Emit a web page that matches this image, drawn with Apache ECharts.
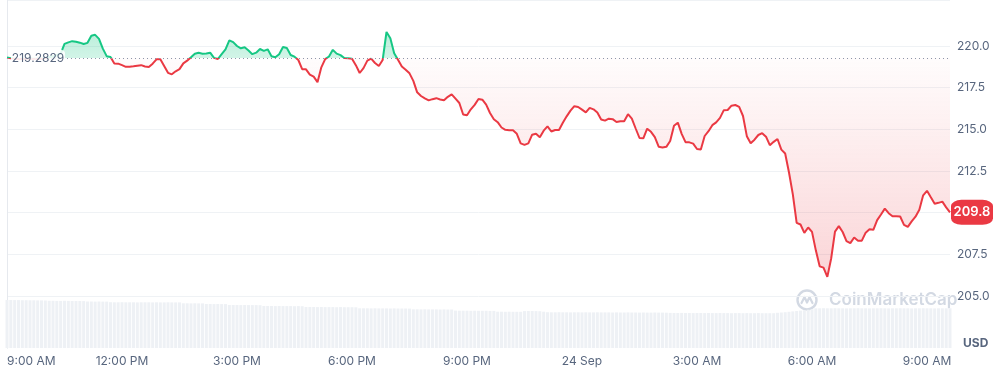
<!DOCTYPE html>
<html><head><meta charset="utf-8">
<script src="https://cdn.jsdelivr.net/npm/echarts@6/dist/echarts.min.js"></script>
<style>html,body{margin:0;padding:0;background:#fff}#c{width:994px;height:371px}</style>
</head><body><div id="c"></div>
<script>
// x values are hours after 9:00 AM (23 Sep), sampled every 6 minutes
const stepHours = 0.1;
const baseline = 219.2829;
const currentPrice = 209.8;
const tickLabels = ['9:00 AM','12:00 PM','3:00 PM','6:00 PM','9:00 PM','24 Sep','3:00 AM','6:00 AM','9:00 AM'];
const priceTicks = [205.0, 207.5, 210.0, 212.5, 215.0, 217.5, 220.0];

const priceValues = [
219.31,219.27,219.24,219.22,219.23,219.24,219.25,219.24,219.23,219.23,
219.28,219.33,219.38,219.46,219.54,220.13,220.22,220.29,220.26,220.20,
220.12,220.19,220.61,220.67,220.43,219.84,219.39,219.34,218.95,218.94,
218.85,218.75,218.75,218.78,218.82,218.85,218.77,218.74,218.94,219.20,
219.21,218.80,218.39,218.30,218.48,218.61,218.96,219.12,219.32,219.53,
219.59,219.54,219.55,219.60,219.29,219.22,219.51,219.80,220.34,220.23,
220.00,219.86,219.92,219.73,219.51,219.60,219.82,219.71,219.80,219.38,
219.32,219.50,219.94,219.88,219.46,219.36,219.16,218.61,218.60,218.28,
218.16,217.83,218.72,219.21,219.37,219.77,219.54,219.45,219.28,219.26,
219.24,218.85,218.38,218.67,219.12,219.24,218.98,218.80,219.16,220.84,
220.47,219.57,219.17,218.77,218.58,218.36,217.91,217.22,217.00,216.86,
216.74,216.81,216.87,216.79,216.74,216.95,217.10,216.84,216.58,215.89,
215.84,216.20,216.47,216.82,216.78,216.48,215.98,215.61,215.43,215.11,
214.97,214.95,214.94,214.73,214.16,214.07,214.16,214.68,214.74,214.53,
214.92,215.18,214.87,214.96,214.96,215.39,215.78,216.12,216.39,216.34,
216.18,216.02,216.29,216.20,216.01,215.59,215.52,215.64,215.61,215.44,
215.48,215.48,215.91,215.64,215.05,214.48,214.46,215.04,214.85,214.53,
213.96,213.91,213.95,214.30,215.21,215.40,214.73,214.23,214.22,214.14,
213.82,213.79,214.60,214.89,215.25,215.42,215.69,216.15,216.16,216.42,
216.46,216.35,215.80,214.59,214.17,214.38,214.66,214.77,214.56,214.05,
214.25,214.42,213.78,213.55,212.41,211.10,209.39,209.29,208.79,209.11,
208.85,207.74,206.78,206.70,206.15,207.25,208.86,209.19,208.84,208.29,
208.17,208.51,208.32,208.32,208.80,209.00,208.97,209.55,209.89,210.24,
209.97,209.79,209.78,209.77,209.27,209.15,209.48,209.76,210.18,211.04,
211.31,210.92,210.54,210.59,210.66,210.32,210.02
];

// volume (billions USD)
const volumeValues = [
4.80,4.80,4.79,4.79,4.78,4.78,4.77,4.77,4.76,4.76,4.75,
4.72,4.72,4.71,4.71,4.72,4.71,4.70,4.70,4.70,4.69,
4.65,4.65,4.64,4.65,4.64,4.64,
4.58,4.57,4.57,4.58,4.57,4.57,4.57,4.56,4.57,4.57,4.57,4.56,4.57,4.56,4.56,4.57,4.56,4.56,4.56,
4.47,4.47,4.46,4.47,4.46,4.46,
4.40,4.40,4.39,4.40,4.39,4.39,
4.30,4.30,4.30,4.29,4.30,4.29,4.29,4.29,4.28,
4.20,4.20,4.20,4.19,4.20,4.19,4.19,4.19,4.18,4.19,4.18,
4.10,4.10,4.10,4.09,4.10,4.09,4.09,4.09,4.08,4.09,4.08,4.08,4.08,4.07,
3.97,3.97,3.97,3.96,3.97,3.96,3.96,3.96,3.95,3.96,3.95,3.95,3.95,3.94,
3.87,3.87,3.86,3.87,3.86,3.86,3.86,3.85,3.86,3.85,3.85,
3.74,3.73,3.73,3.73,3.72,3.73,3.72,3.72,3.72,3.71,3.71,
3.63,3.63,3.62,3.63,3.62,3.62,3.62,
3.69,3.70,3.70,3.69,3.68,3.63,
3.58,3.57,3.57,3.58,3.57,3.57,3.56,3.57,3.57,3.56,3.57,3.56,3.56,3.57,3.56,3.56,
3.56,3.55,3.56,3.55,3.55,3.56,3.55,3.55,3.54,3.55,3.54,3.54,3.55,3.54,3.54,3.53,
3.51,3.50,3.50,3.51,3.50,3.50,3.49,3.50,3.50,3.49,3.50,3.49,3.49,3.50,
3.49,3.49,3.48,3.49,3.49,3.48,3.49,3.48,3.48,3.49,3.48,3.48,3.48,3.48,
3.52,3.55,3.58,3.62,3.66,3.70,3.74,3.78,3.83,3.88,
3.97,3.97,3.98,3.97,3.97,3.98,3.97,3.97,3.96,3.97,3.97,3.98,
3.97,3.97,3.96,3.97,3.97,3.98,3.97,3.96,3.97,3.97,3.98,3.97,
3.97,3.96,3.97,3.97,3.98,3.97,3.97,3.96,3.97,3.97,3.97,3.97
];

const times = priceValues.map((_, i) => +(i * stepHours).toFixed(2));
const xMax = times[times.length - 1];
const lineData = times.map((t, i) => [t, priceValues[i]]);
const upData = times.map((t, i) => [t, Math.max(priceValues[i], baseline)]);
const downData = times.map((t, i) => [t, Math.min(priceValues[i], baseline)]);
const volData = times.map((t, i) => [t, volumeValues[i]]);

const GREEN = '#16c784', RED = '#ea3943', LABEL = '#58667e', GRIDC = '#eff2f5', BORDER = '#e6e9ee';
const FONT = 'Inter, "Noto Sans", sans-serif';
const splitColors = priceTicks.map(() => GRIDC).concat(['rgba(0,0,0,0)']);

const chart = echarts.init(document.getElementById('c'), null, {renderer: 'canvas'});
chart.setOption({
  animation: false,
  textStyle: {fontFamily: FONT},
  grid: [
    {left: 7, right: 44, top: 0, height: 296},
    {left: 7, right: 44, top: 296, height: 52}
  ],
  xAxis: [
    {type: 'value', gridIndex: 0, min: 0, max: xMax, show: false},
    {type: 'value', gridIndex: 1, min: 0, max: xMax, interval: 3,
     axisLine: {show: false}, axisTick: {show: false}, splitLine: {show: false},
     axisLabel: {color: LABEL, fontSize: 12, margin: 7, alignMinLabel: 'left',
       formatter: v => tickLabels[Math.round(v / 3)] || ''}}
  ],
  yAxis: [
    {type: 'value', gridIndex: 0, position: 'right', min: priceTicks[0], max: 222.76, interval: 2.5,
     axisLine: {show: true, lineStyle: {color: BORDER}}, axisTick: {show: false},
     splitLine: {show: true, lineStyle: {color: splitColors}},
     axisLabel: {color: LABEL, fontSize: 12, margin: 7,
       formatter: v => (v <= priceTicks[priceTicks.length - 1] + 0.01 ? v.toFixed(1) : '')}},
    {type: 'value', gridIndex: 0, position: 'left', min: priceTicks[0], max: 222.76,
     axisLine: {show: true, lineStyle: {color: BORDER}}, axisTick: {show: false},
     axisLabel: {show: false}, splitLine: {show: false}},
    {type: 'value', gridIndex: 1, position: 'right', min: 0, max: 5.2,
     axisLine: {show: true, lineStyle: {color: BORDER}}, axisTick: {show: false},
     axisLabel: {show: false}, splitLine: {show: false}},
    {type: 'value', gridIndex: 1, position: 'left', min: 0, max: 5.2,
     axisLine: {show: true, lineStyle: {color: BORDER}}, axisTick: {show: false},
     axisLabel: {show: false}, splitLine: {show: false}}
  ],
  visualMap: {
    type: 'piecewise', show: false, seriesIndex: 2, dimension: 1,
    pieces: [{gt: baseline, lte: 300, color: GREEN}, {gte: 100, lte: baseline, color: RED}]
  },
  series: [
    {type: 'line', name: 'up', xAxisIndex: 0, yAxisIndex: 0, data: upData, showSymbol: false, silent: true,
     lineStyle: {width: 0}, z: 1,
     areaStyle: {origin: baseline, color: {type: 'linear', x: 0, y: 0, x2: 0, y2: 1,
       colorStops: [{offset: 0, color: 'rgba(22,199,132,0.42)'}, {offset: 1, color: 'rgba(22,199,132,0.28)'}]}},
     markLine: {silent: true, symbol: 'none', label: {show: false},
       lineStyle: {color: '#8d96a8', type: [1, 3], width: 1},
       data: [{yAxis: baseline}]}
    },
    {type: 'line', name: 'down', xAxisIndex: 0, yAxisIndex: 0, data: downData, showSymbol: false, silent: true,
     lineStyle: {width: 0}, z: 1,
     areaStyle: {origin: baseline, color: {type: 'linear', x: 0, y: 0, x2: 0, y2: 1,
       colorStops: [{offset: 0, color: 'rgba(234,57,67,0.02)'}, {offset: 1, color: 'rgba(234,57,67,0.30)'}]}}
    },
    {type: 'line', name: 'price', xAxisIndex: 0, yAxisIndex: 0, data: lineData, showSymbol: false,
     lineStyle: {width: 2}, z: 3,
     markPoint: {
       silent: true,
       data: [
         {coord: [0, baseline], symbol: 'roundRect', symbolSize: [54, 20], symbolOffset: [31, 0],
          itemStyle: {color: 'rgba(255,255,255,0.88)'},
          label: {show: true, formatter: baseline.toFixed(4), color: LABEL, fontSize: 12}},
         {coord: [xMax, priceValues[priceValues.length - 1]], symbol: 'roundRect', symbolSize: [42, 25], symbolOffset: [22, 0],
          itemStyle: {color: RED},
          label: {show: true, formatter: currentPrice.toFixed(1), color: '#fff', fontSize: 13, fontWeight: 600}}
       ]
     }
    },
    {type: 'bar', name: 'volume', xAxisIndex: 1, yAxisIndex: 2, data: volData, barWidth: 3,
     itemStyle: {color: '#eef1f5'}, silent: true}
  ],
  graphic: [
    {type: 'group', left: 795, top: 288, silent: true, children: [
      {type: 'circle', shape: {cx: 10, cy: 10, r: 9.5}, style: {fill: 'none', stroke: '#d3d9e3', lineWidth: 2.4}},
      {type: 'polyline', shape: {points: [[4.5, 13], [7.5, 7], [10, 12.5], [12.5, 7], [15.5, 13]]},
       style: {fill: 'none', stroke: '#d3d9e3', lineWidth: 2.2, lineJoin: 'round', lineCap: 'round'}},
      {type: 'text', x: 32, y: 10, style: {text: 'CoinMarketCap', fill: '#d3d9e3', fontSize: 17, fontWeight: 600,
        fontFamily: FONT, verticalAlign: 'middle'}}
    ]},
    {type: 'text', left: 963, top: 337, silent: true,
     style: {text: 'USD', fill: LABEL, fontSize: 12, fontWeight: 'bold', fontFamily: FONT}}
  ]
});
</script>
</body></html>
